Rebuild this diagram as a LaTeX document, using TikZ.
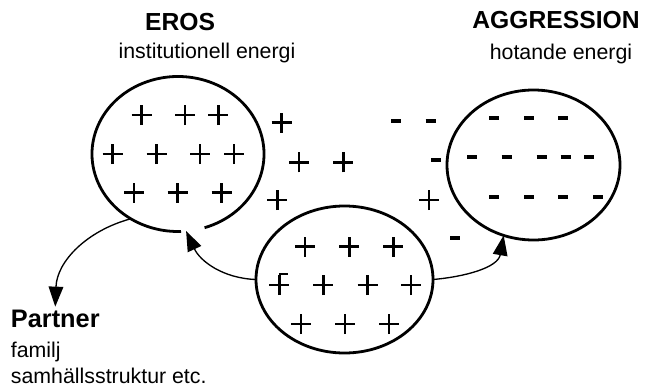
\documentclass[tikz,border=0pt]{standalone}
\usepackage{fontspec}
\setmainfont{Liberation Sans}
\usetikzlibrary{arrows.meta,shapes.geometric}
\tikzset{
	blob/.style={ellipse, inner sep=0pt, outer sep=0pt, line width=2.1pt},
	sign/.style={line width=2.2pt},
	link/.style={line width=1pt, -{Triangle[length=15pt,width=11pt]}},
	head/.style={font=\fontsize{18.5}{22}\selectfont\bfseries, anchor=base},
	sub/.style={font=\fontsize{16}{19}\selectfont, anchor=base},
	plus/.pic={\draw[sign] (-1,0) -- (1,0) (0,-1) -- (0,1);},
	minus/.pic={\draw[sign, line width=2.8pt] (-0.5,0) -- (0.5,0);}
}

\begin{document}
\begin{tikzpicture}[x=7.5pt, y=7.5pt]
		%%%%% START %%%%%
		\useasboundingbox (0,0) rectangle (64.6,38.7);
		
		\node[head] (erosname) at (18.0,35.7) {EROS};
		\node[sub] (erossub) at (20.7,32.9) {institutionell energi};
		\node[head] (aggname) at (55.6,35.85) {AGGRESSION};
		\node[sub] (aggsub) at (56.1,32.75) {hotande energi};
		
		% the three fields
		\node[blob, minimum width=129pt, minimum height=116pt] (eros) at (17.8,23.3) {};
		\draw[line width=2.1pt] ([shift={(-72:8.6 and 7.75)}]eros.center) arc[start angle=-72, end angle=272, x radius=8.6, y radius=7.75];
		\node[blob, draw, minimum width=129.75pt, minimum height=112.5pt] (agg) at (53.35,22.2) {};
		\node[blob, draw, minimum width=132.75pt, minimum height=110.25pt] (pool) at (34.45,10.75) {};
		
		% plus inside eros
		\path (14.17,27.2) pic {plus} (18.5,27.2) pic {plus} (21.83,27.2) pic {plus};
		\path (11.27,23.3) pic {plus} (15.67,23.3) pic {plus} (20.0,23.3) pic {plus} (23.4,23.3) pic {plus};
		\path (13.4,19.43) pic {plus} (17.77,19.43) pic {plus} (22.17,19.43) pic {plus};
		
		% loose signs between the fields
		\path (28.17,26.43) pic {plus} (29.9,22.47) pic {plus} (34.33,22.47) pic {plus} (27.73,18.7) pic {plus} (42.9,18.7) pic {plus};
		\path (39.6,26.63) pic {minus} (43.07,26.63) pic {minus} (43.6,22.7) pic {minus} (45.5,14.93) pic {minus};
		
		% minus inside aggression
		\path (49.43,26.87) pic {minus} (52.93,26.87) pic {minus} (56.33,26.87) pic {minus};
		\path (47.23,22.97) pic {minus} (50.67,22.97) pic {minus} (54.17,22.97) pic {minus} (56.57,22.97) pic {minus} (58.93,22.97) pic {minus};
		\path (49.43,19.03) pic {minus} (52.93,19.03) pic {minus} (56.33,19.03) pic {minus} (59.83,19.03) pic {minus};
		
		% plus inside the lower field
		\path (30.5,14.03) pic {plus} (34.93,14.03) pic {plus} (39.33,14.03) pic {plus};
		\path (27.93,10.2) pic {plus} (32.33,10.2) pic {plus} (36.77,10.2) pic {plus} (41.1,10.2) pic {plus};
		\draw[line width=1.6pt] (27.9,11.3) -- (28.75,11.3);
		\path (30.1,6.3) pic {plus} (34.5,6.3) pic {plus} (38.9,6.3) pic {plus};
		
		\node[font=\fontsize{19}{22}\selectfont\bfseries, anchor=base west, inner sep=2pt] (partner) at (0.8,6.0) {Partner};
		\node[sub, anchor=base west, inner sep=2pt] (familj) at (0.8,3.0) {familj};
		\node[sub, anchor=base west, inner sep=2pt] (samh) at (0.8,0.4) {samhällsstruktur etc.};
		
		\draw[link] (eros.-126) to[out=195, in=88] (partner.north);
		\draw[link] (pool.west) to[out=178, in=-65] (eros.-84);
		\draw[link] (pool.east) to[out=5, in=-100] (agg.-113);
		
		%%%%% END %%%%%
	\end{tikzpicture}
\end{document}
